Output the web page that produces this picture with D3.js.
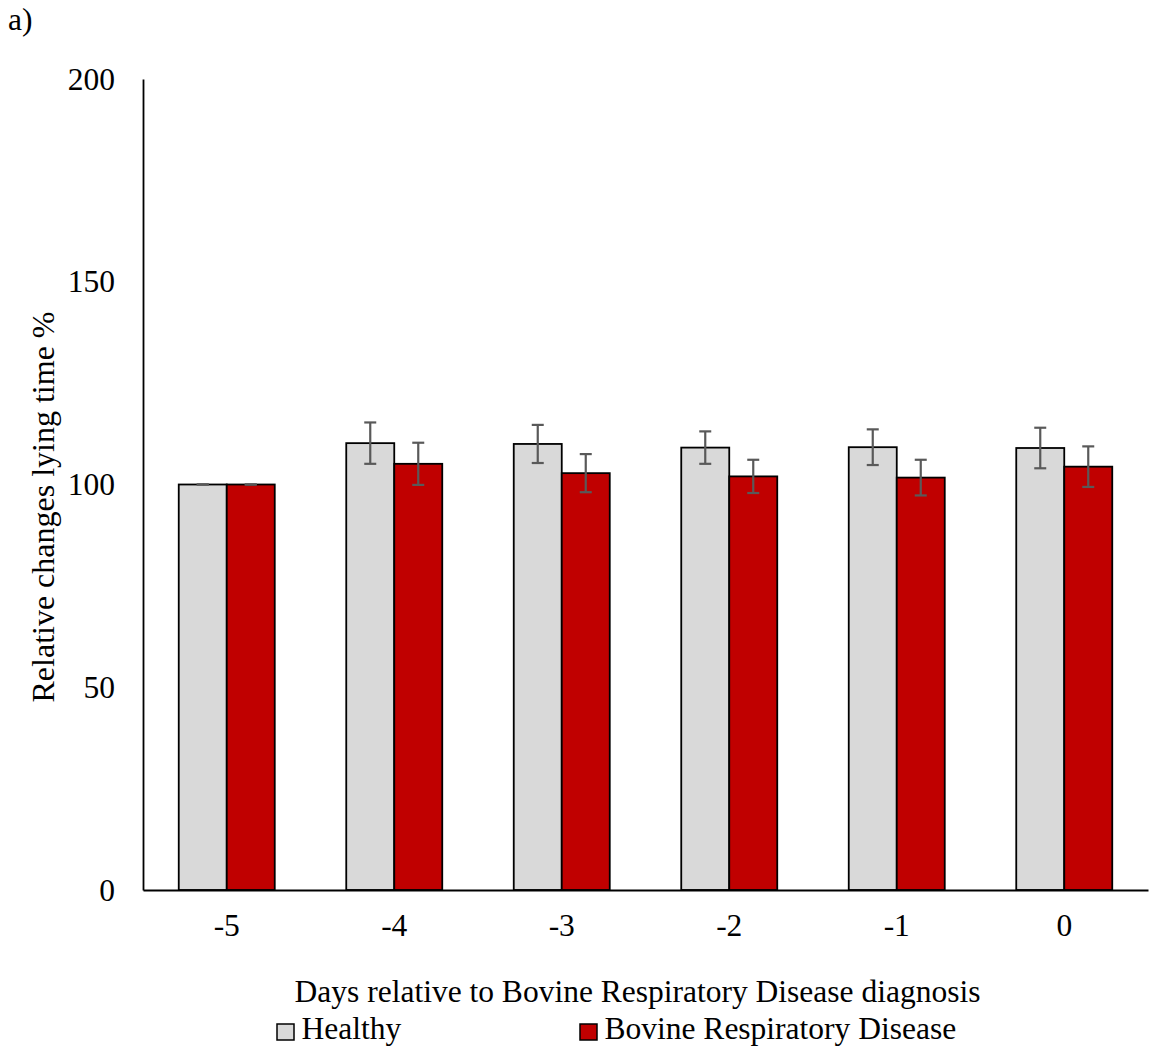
<!DOCTYPE html>
<html><head><meta charset="utf-8">
<script src="https://cdn.jsdelivr.net/npm/d3@7"></script>
<style>body{margin:0;background:#fff}</style>
</head><body>
<svg id="c" width="1151" height="1055" style="font-family:'Times New Roman','Liberation Serif',Tinos,'DejaVu Serif',serif"></svg>
<script>
const days = ["-5","-4","-3","-2","-1","0"];
const seriesNames = ["Healthy","Bovine Respiratory Disease"];
const healthy = [100,110.2,110.0,109.1,109.2,109.0];
const healthyErr = [0,5.1,4.7,4.0,4.4,5.0];
const brd = [100,105.1,102.8,102.0,101.7,104.4];
const brdErr = [0,5.2,4.7,4.1,4.4,5.0];
const yTicks = [0,50,100,150,200];
const colors = ["#d9d9d9","#c00000"];
const FF = "'Times New Roman','Liberation Serif',Tinos,'DejaVu Serif',serif";
const FS = 31.5;

const svg = d3.select("#c");
const x = d3.scaleBand().domain(days).range([143,1148]);
const y = d3.scaleLinear().domain([0,200]).range([890,79]);
const barW = 48;
const sub = d3.scaleBand().domain([0,1]).range([0,barW*2]);

const data = [];
days.forEach((d,i)=>{
  data.push({d, s:0, v:healthy[i], e:healthyErr[i]});
  data.push({d, s:1, v:brd[i], e:brdErr[i]});
});
const bx = r => x(r.d) + x.bandwidth()/2 - barW + sub(r.s);

svg.append("g").selectAll("rect").data(data).join("rect")
  .attr("x", bx).attr("width", barW)
  .attr("y", r=>y(r.v)).attr("height", r=>y(0)-y(r.v))
  .attr("fill", r=>colors[r.s]).attr("stroke","#000").attr("stroke-width",1.8);

const eg = svg.append("g").attr("stroke","#595959").attr("stroke-width",2.2);
data.forEach(r=>{
  const cx = bx(r) + barW/2;
  eg.append("line").attr("x1",cx).attr("x2",cx).attr("y1",y(r.v+r.e)).attr("y2",y(r.v-r.e));
  [r.v+r.e, r.v-r.e].forEach(v=>eg.append("line").attr("x1",cx-6).attr("x2",cx+6).attr("y1",y(v)).attr("y2",y(v)));
});

const yAxis = d3.axisLeft(y).tickValues(yTicks).tickSize(0).tickPadding(28);
const gy = svg.append("g").attr("transform","translate(143,0)").call(yAxis)
  .attr("font-family",FF).attr("font-size",FS);
gy.select(".domain").attr("stroke","#000").attr("stroke-width",1.8);
gy.selectAll("text").attr("fill","#000");
const xAxis = d3.axisBottom(x).tickSize(0).tickPadding(24);
const gx = svg.append("g").attr("transform","translate(0,890)").call(xAxis)
  .attr("font-family",FF).attr("font-size",FS);
gx.select(".domain").attr("stroke","#000").attr("stroke-width",1.8);
gx.selectAll("text").attr("fill","#000");

const t = svg.append("g").attr("font-family",FF).attr("font-size",FS).attr("fill","#000");
t.append("text").attr("x",8).attr("y",30).text("a)");
t.append("text").attr("transform","translate(54,507) rotate(-90)").attr("text-anchor","middle")
  .attr("font-size",32).text("Relative changes lying time %");
t.append("text").attr("x",637.5).attr("y",1002).attr("text-anchor","middle")
  .text("Days relative to Bovine Respiratory Disease diagnosis");

const legX = [277, 580];
seriesNames.forEach((n,i)=>{
  t.append("rect").attr("x",legX[i]).attr("y",1024).attr("width",17).attr("height",16)
    .attr("fill",colors[i]).attr("stroke","#000").attr("stroke-width",1.5);
  t.append("text").attr("x",legX[i]+24.5).attr("y",1039).text(n);
});
</script>
</body></html>
